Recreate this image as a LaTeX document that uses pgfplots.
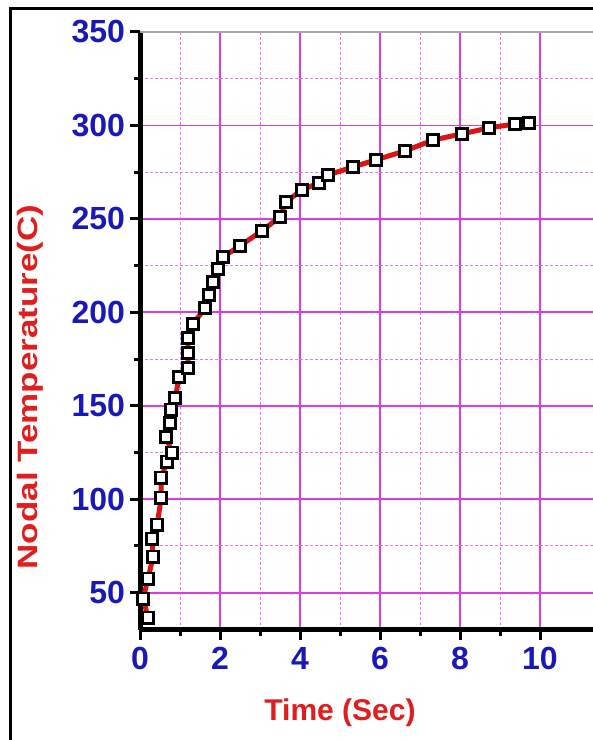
\documentclass[border=0pt]{standalone}
\usepackage{pgfplots}
\usepackage{pgfplotstable}
\pgfplotsset{compat=1.18}
\usepackage{fontspec}
\setmainfont{Liberation Sans}
\definecolor{gridmag}{RGB}{220,60,225}
\definecolor{tickblue}{RGB}{25,25,185}
\definecolor{labred}{RGB}{225,30,30}
\definecolor{linered}{RGB}{220,20,20}
\pgfplotstableread{
x y
0.20 36.6
0.08 46.8
0.20 57.5
0.33 69.3
0.30 78.9
0.43 86.4
0.53 100.8
0.53 111.5
0.68 120.1
0.80 124.9
0.65 133.4
0.75 140.9
0.78 147.9
0.88 154.3
0.98 165.5
1.20 170.3
1.20 178.3
1.20 186.4
1.33 193.9
1.63 202.4
1.73 209.4
1.83 216.3
1.95 223.3
2.08 229.7
2.50 235.6
3.05 243.6
3.50 251.1
3.65 259.1
4.05 265.5
4.48 269.3
4.70 273.5
5.33 277.8
5.90 281.6
6.63 286.4
7.33 292.2
8.05 295.5
8.73 298.7
9.38 300.8
9.73 301.3
}\datatable
\begin{document}
\begin{tikzpicture}[x=1pt,y=1pt]
\path[use as bounding box] (0,0) rectangle (296.5,370);
\fill[white] (0,0) rectangle (296.5,370);
\begin{axis}[
  at={(70pt,55pt)}, anchor=south west,
  scale only axis, width=226.5pt, height=299pt,
  xmin=0, xmax=11.325, ymin=30, ymax=350,
  xtick={0,2,...,10}, ytick={50,100,...,350},
  minor x tick num=1, minor y tick num=1,
  axis lines*=left,
  axis line style={line width=2.5pt, black, -},
  tick align=outside,
  major tick length=5pt, minor tick length=3pt,
  every tick/.style={black, line width=1.5pt},
  grid=both,
  major grid style={gridmag, line width=0.9pt},
  minor grid style={gridmag!70, line width=0.5pt, dash pattern=on 1.5pt off 1pt},
  ticklabel style={font=\fontsize{16}{18}\selectfont\bfseries, text=tickblue},
  yticklabel style={xshift=1pt},
  /pgf/number format/assume math mode=true,
  clip=false,
]
\draw[gray!70, line width=0.8pt] (rel axis cs:0,1) -- (rel axis cs:1,1);
\addplot[linered, line width=2.5pt, no marks] table[x=x,y=y] {\datatable};
\addplot[only marks, mark=square*, mark size=2.8pt,
  mark options={fill=white, draw=black, line width=1.4pt}] table[x=x,y=y] {\datatable};
\end{axis}
\draw[line width=1.5pt] (5,0) -- (5,365.5) -- (296.5,365.5);
\node[rotate=90, text=labred, font=\fontsize{14}{16}\selectfont\bfseries] at (15,176.5) {\scalebox{1.25}[1]{Nodal Temperature(C)}};
\node[text=labred, font=\fontsize{15}{17}\selectfont\bfseries] at (170,13.5) {Time (Sec)};
\end{tikzpicture}
\end{document}
